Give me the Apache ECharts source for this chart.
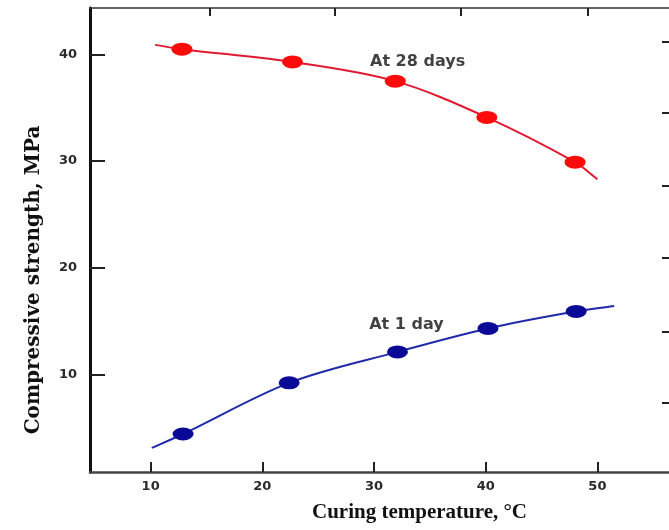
<!DOCTYPE html>
<html>
<head>
<meta charset="utf-8">
<script src="https://cdn.jsdelivr.net/npm/echarts@6/dist/echarts.min.js"></script>
<style>
html,body{margin:0;padding:0;background:#fff;}
#chart{width:669px;height:530px;}
</style>
</head>
<body>
<div id="chart"></div>
<script>
// ---- data ----
const temp28 = [12.8, 22.7, 31.9, 40.1, 48.0];
const strength28 = [40.5, 39.3, 37.5, 34.1, 29.9];
const curve28X = [10.4, 12.8, 22.7, 31.9, 40.1, 48.0, 50.0];
const curve28Y = [40.9, 40.5, 39.3, 37.5, 34.1, 29.9, 28.3];

const temp1 = [12.9, 22.4, 32.1, 40.2, 48.1];
const strength1 = [4.4, 9.2, 12.1, 14.3, 15.9];
const curve1X = [10.1, 12.9, 22.4, 32.1, 40.2, 48.1, 51.5];
const curve1Y = [3.1, 4.4, 9.2, 12.1, 14.3, 15.9, 16.4];

const annotationText = ['At 28 days', 'At 1 day'];
const annotationX = [33.9, 32.9];
const annotationY = [39.3, 14.6];

const xTicks = [10, 20, 30, 40, 50];
const yTicks = [10, 20, 30, 40];
const topTicks = [15.3, 26.5, 37.8, 49.1];
const rightTicks = [7.3, 14.0, 20.9, 27.7, 34.5, 41.2];

const xMin = 4.57, xMax = 56.41;
const yMin = 0.835, yMax = 44.36;

const xName = 'Curing temperature, °C';
const yName = 'Compressive strength, MPa';

const zip = (a, b) => a.map((v, i) => [v, b[i]]);

// smooth curve through the given points (cubic Hermite in pixel space, drawn via the axes' scales)
function curveRenderer(xs, ys, color) {
  return function (params, api) {
    if (params.dataIndex !== 0) return null;
    const p = xs.map((x, i) => api.coord([x, ys[i]]));
    const n = p.length;
    const s = p.map((pt, i) => {
      const a = p[Math.max(0, i - 1)], b = p[Math.min(n - 1, i + 1)];
      return (b[1] - a[1]) / (b[0] - a[0]);
    });
    let d = 'M' + p[0][0] + ' ' + p[0][1];
    for (let i = 0; i < n - 1; i++) {
      const h = (p[i + 1][0] - p[i][0]) / 3;
      d += ' C' + (p[i][0] + h) + ' ' + (p[i][1] + s[i] * h) + ' ' +
        (p[i + 1][0] - h) + ' ' + (p[i + 1][1] - s[i + 1] * h) + ' ' +
        p[i + 1][0] + ' ' + p[i + 1][1];
    }
    return {type: 'path', shape: {pathData: d}, style: {stroke: color, lineWidth: 2, fill: null}};
  };
}

const chart = echarts.init(document.getElementById('chart'));
const labelFont = {fontFamily: 'DejaVu Sans', fontWeight: 'bold', fontSize: 13, color: '#2a2a2a'};

chart.setOption({
  animation: false,
  backgroundColor: '#fff',
  grid: {left: 90, top: 8, width: 582, bottom: 58},
  xAxis: [
    {
      type: 'value', position: 'bottom', min: xMin, max: xMax,
      axisLine: {onZero: false, lineStyle: {color: '#444', width: 2.5}},
      axisTick: {inside: true, length: 10, customValues: xTicks, lineStyle: {color: '#222', width: 2}},
      axisLabel: Object.assign({customValues: xTicks, margin: 8}, labelFont),
      splitLine: {show: false},
      name: xName, nameLocation: 'middle', nameGap: 30,
      nameTextStyle: {fontFamily: 'Liberation Serif', fontWeight: 'bold', fontSize: 21, color: '#111', padding: [0, 0, 0, 80]}
    },
    {
      type: 'value', position: 'top', min: xMin, max: xMax,
      axisLine: {onZero: false, lineStyle: {color: '#333', width: 1.5}},
      axisTick: {inside: true, length: 8, customValues: topTicks, lineStyle: {color: '#222', width: 2}},
      axisLabel: {show: false},
      splitLine: {show: false}
    }
  ],
  yAxis: [
    {
      type: 'value', position: 'left', min: yMin, max: yMax,
      axisLine: {onZero: false, lineStyle: {color: '#111', width: 3}},
      axisTick: {inside: true, length: 15, customValues: yTicks, lineStyle: {color: '#222', width: 2}},
      axisLabel: Object.assign({customValues: yTicks, margin: 13}, labelFont),
      splitLine: {show: false},
      name: yName, nameLocation: 'middle', nameGap: 46, nameRotate: 90,
      nameTextStyle: {fontFamily: 'DejaVu Serif', fontWeight: 'bold', fontSize: 20, color: '#111', padding: [0, 80, 0, 0]}
    },
    {
      type: 'value', position: 'right', min: yMin, max: yMax,
      axisLine: {show: false, onZero: false},
      axisTick: {show: true, inside: true, length: 7, customValues: rightTicks, lineStyle: {color: '#222', width: 2}},
      axisLabel: {show: false},
      splitLine: {show: false}
    }
  ],
  series: [
    {
      name: 'At 28 days curve', type: 'custom', clip: true,
      renderItem: curveRenderer(curve28X, curve28Y, '#e01a30'),
      data: zip(curve28X, curve28Y), z: 2
    },
    {
      name: 'At 1 day curve', type: 'custom', clip: true,
      renderItem: curveRenderer(curve1X, curve1Y, '#1f2aa8'),
      data: zip(curve1X, curve1Y), z: 2
    },
    {
      name: 'At 28 days', type: 'scatter', symbol: 'circle', symbolSize: [21, 13],
      data: zip(temp28, strength28),
      itemStyle: {color: '#ff0a0a', opacity: 1}, z: 3
    },
    {
      name: 'At 1 day', type: 'scatter', symbol: 'circle', symbolSize: [21, 13],
      data: zip(temp1, strength1),
      itemStyle: {color: '#0a0a96', opacity: 1}, z: 3
    },
    {
      name: 'labels', type: 'scatter', symbolSize: 0, silent: true,
      data: annotationText.map((t, i) => ({value: [annotationX[i], annotationY[i]], name: t})),
      label: {show: true, position: 'inside', formatter: p => p.name,
        fontFamily: 'DejaVu Sans', fontWeight: 'bold', fontSize: 16, color: '#111'},
      z: 4
    }
  ]
});
</script>
</body>
</html>
